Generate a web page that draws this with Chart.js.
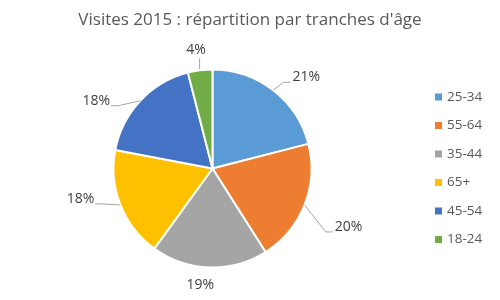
<!DOCTYPE html>
<html><head><meta charset="utf-8">
<script src="https://cdn.jsdelivr.net/npm/chart.js@4/dist/chart.umd.min.js"></script>
<style>html,body{margin:0;padding:0;background:#fff}#wrap{width:500px;height:300px}</style>
</head><body><div id="wrap"><canvas id="c" width="500" height="300"></canvas></div>
<script>
const titleText = "Visites 2015 : répartition par tranches d'âge";
const categories = ['25-34','55-64','35-44','65+','45-54','18-24'];
const shares = [21, 20, 19, 18, 18, 4];
const colors = ['#5B9BD5','#ED7D31','#A5A5A5','#FFC000','#4472C4','#70AD47'];
// label placement style (offset of text centre from the slice's outer mid point)
const labelNudge = [[33,-13],[44,22],[-9,18],[-40,-6],[-44,0],[-4,-20]];
const leaderKind = ['elbow','elbow','none','elbow','elbow','vertical'];

const FONT = '"Open Sans", "Liberation Sans", sans-serif';

const overlay = {
  id: 'overlay',
  afterDraw(chart) {
    const ctx = chart.ctx;
    const meta = chart.getDatasetMeta(0);
    const total = shares.reduce((a,b)=>a+b,0);
    ctx.save();
    // title
    ctx.fillStyle = '#595959';
    ctx.font = '17px ' + FONT;
    ctx.textAlign = 'center';
    ctx.textBaseline = 'middle';
    ctx.fillText(titleText, 250, 20);
    // data labels
    ctx.font = '14px ' + FONT;
    meta.data.forEach((arc, i) => {
      const p = arc.getProps(['x','y','startAngle','endAngle','outerRadius'], true);
      const mid = (p.startAngle + p.endAngle) / 2;
      const px = p.x + Math.cos(mid) * p.outerRadius;
      const py = p.y + Math.sin(mid) * p.outerRadius;
      const tx = px + labelNudge[i][0];
      const ty = py + labelNudge[i][1];
      const txt = Math.round(shares[i] / total * 100) + '%';
      const w = ctx.measureText(txt).width;
      ctx.strokeStyle = '#A6A6A6';
      ctx.lineWidth = 1;
      if (leaderKind[i] === 'elbow') {
        const right = tx > px;
        const ex = right ? tx - w/2 - 2 : tx + w/2 + 1;
        const ey = ty + 5;
        const kx = right ? ex - 7 : ex + 7;
        ctx.beginPath();
        ctx.moveTo(px, py);
        ctx.lineTo(kx, ey);
        ctx.lineTo(ex, ey);
        ctx.stroke();
      } else if (leaderKind[i] === 'vertical') {
        ctx.beginPath();
        ctx.moveTo(tx + 3.5, py - 1);
        ctx.lineTo(tx + 3.5, ty + 8);
        ctx.stroke();
      }
      ctx.fillStyle = '#404040';
      ctx.textAlign = 'center';
      ctx.textBaseline = 'middle';
      ctx.fillText(txt, tx, ty);
    });
    // legend
    ctx.font = '13.5px ' + FONT;
    ctx.textAlign = 'left';
    ctx.textBaseline = 'middle';
    categories.forEach((c, i) => {
      const y = 97 + i * 28.5;
      ctx.fillStyle = colors[i];
      ctx.fillRect(435, y - 3.5, 7, 7);
      ctx.fillStyle = '#595959';
      ctx.fillText(c, 447, y);
    });
    ctx.restore();
  }
};

new Chart(document.getElementById('c'), {
  type: 'pie',
  data: {
    labels: categories,
    datasets: [{
      data: shares,
      backgroundColor: colors,
      borderColor: '#FFFFFF',
      borderWidth: 2,
      radius: 99
    }]
  },
  options: {
    responsive: false,
    animation: false,
    layout: { padding: { left: 113, right: 188, top: 69, bottom: 32 } },
    plugins: { legend: { display: false }, title: { display: false }, tooltip: { enabled: false } }
  },
  plugins: [overlay]
});
</script></body></html>
